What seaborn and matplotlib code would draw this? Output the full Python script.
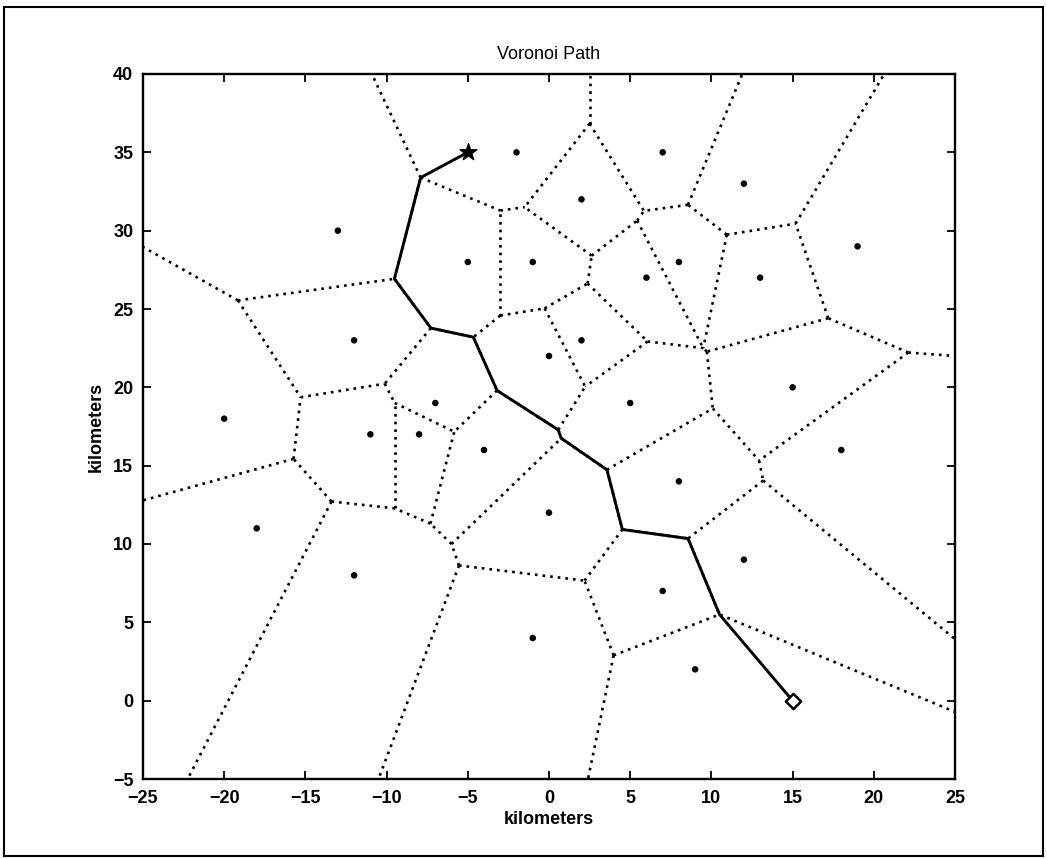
import heapq
import numpy as np
import pandas as pd
import matplotlib
matplotlib.use("Agg")
import matplotlib.pyplot as plt
import matplotlib.tri as mtri
from matplotlib.collections import LineCollection
from matplotlib.patches import Rectangle
import seaborn as sns

# ---------------- data ----------------
site_x = [-2, 7, -13, -5, -1, 2, 12, 19, 8, 6, 13, -12, 0, 2, -20,
          -7, -11, -8, -4, -18, 0, -12, -1, 5, 15, 18, 8, 12, 7, 9]
site_y = [35, 35, 30, 28, 28, 32, 33, 29, 28, 27, 27, 23, 22, 23, 18,
          19, 17, 17, 16, 11, 12, 8, 4, 19, 20, 16, 14, 9, 7, 2]

start_x, start_y = [-5], [35]
goal_x, goal_y = [15], [0]

# approximate path waypoints, snapped to the computed Voronoi vertices
path_way_x = [-7.9, -9.5, -7.2, -4.6, -3.2, 0.5, 3.7, 4.7, 8.75, 10.66]
path_way_y = [33.4, 26.9, 23.8, 23.3, 19.8, 17.3, 14.8, 10.9, 10.3, 5.5]

x_ticks = [-25, -20, -15, -10, -5, 0, 5, 10, 15, 20, 25]
y_ticks = [-5, 0, 5, 10, 15, 20, 25, 30, 35, 40]
title_text = "Voronoi Path"
x_label = "kilometers"
y_label = "kilometers"

# ---------------- Voronoi from Delaunay ----------------
pts = np.column_stack([site_x, site_y]).astype(float)
tri = mtri.Triangulation(pts[:, 0], pts[:, 1])
T = tri.triangles
nb = tri.neighbors


def circumcenter(a, b, c):
    ax_, ay = a
    bx, by = b
    cx, cy = c
    d = 2 * (ax_ * (by - cy) + bx * (cy - ay) + cx * (ay - by))
    ux = ((ax_**2 + ay**2) * (by - cy) + (bx**2 + by**2) * (cy - ay)
          + (cx**2 + cy**2) * (ay - by)) / d
    uy = ((ax_**2 + ay**2) * (cx - bx) + (bx**2 + by**2) * (ax_ - cx)
          + (cx**2 + cy**2) * (bx - ax_)) / d
    return np.array([ux, uy])


cc = np.array([circumcenter(*pts[t]) for t in T])
segments = []
graph = {i: [] for i in range(len(T))}
for i, t in enumerate(T):
    for j in range(3):
        k = nb[i, j]
        p1, p2, po = t[j], t[(j + 1) % 3], t[(j + 2) % 3]
        if k >= 0:
            if i < k:
                segments.append([cc[i], cc[k]])
                w = float(np.hypot(*(cc[i] - cc[k])))
                graph[i].append((k, w))
                graph[k].append((i, w))
        else:
            tv = pts[p2] - pts[p1]
            tv = tv / np.hypot(*tv)
            n = np.array([-tv[1], tv[0]])
            mid = 0.5 * (pts[p1] + pts[p2])
            direction = np.sign(np.dot(mid - pts[po], n)) * n
            segments.append([cc[i], cc[i] + direction * 300])


def dijkstra(a, b):
    dist = {a: 0.0}
    prev = {}
    pq = [(0.0, a)]
    while pq:
        d, u = heapq.heappop(pq)
        if u == b:
            break
        if d > dist.get(u, 1e18):
            continue
        for v, w in graph[u]:
            nd = d + w
            if nd < dist.get(v, 1e18):
                dist[v] = nd
                prev[v] = u
                heapq.heappush(pq, (nd, v))
    node = b
    out = [b]
    while node != a:
        node = prev[node]
        out.append(node)
    return out[::-1]


snapped = [int(np.argmin(np.hypot(cc[:, 0] - x, cc[:, 1] - y)))
           for x, y in zip(path_way_x, path_way_y)]
route = [snapped[0]]
for a, b in zip(snapped[:-1], snapped[1:]):
    route += dijkstra(a, b)[1:]
path_x = start_x + [cc[r, 0] for r in route] + goal_x
path_y = start_y + [cc[r, 1] for r in route] + goal_y

# ---------------- plotting ----------------
sns.set_theme(style="white")
plt.rcParams["font.family"] = ["Liberation Sans", "DejaVu Sans"]

fig = plt.figure(figsize=(10.47, 8.59), dpi=100)
ax = fig.add_axes([143 / 1047, 1 - 779 / 859, (955 - 143) / 1047, (779 - 74) / 859])

lc = LineCollection(segments, colors="black", linewidths=1.9,
                    linestyles=[(0, (1.0, 1.9))], zorder=1)
ax.add_collection(lc)

sites_df = pd.DataFrame({"x": site_x, "y": site_y})
sns.scatterplot(data=sites_df, x="x", y="y", color="black", s=22,
                edgecolor="none", ax=ax, zorder=3, legend=False)

path_df = pd.DataFrame({"x": path_x, "y": path_y})
sns.lineplot(data=path_df, x="x", y="y", sort=False, estimator=None,
             color="black", linewidth=2.1, ax=ax, zorder=4)

ax.scatter(start_x, start_y, marker="*", s=160, color="black", zorder=5)
ax.scatter(goal_x, goal_y, marker="D", s=60, facecolor="white",
           edgecolor="black", linewidth=1.8, zorder=5)

ax.set_xlim(-25, 25)
ax.set_ylim(-5, 40)
ax.set_xticks(x_ticks)
ax.set_yticks(y_ticks)
ax.set_xticklabels([str(v).replace("-", "\u2212") for v in x_ticks])
ax.set_yticklabels([str(v).replace("-", "\u2212") for v in y_ticks])
ax.tick_params(direction="in", length=6, width=1.3, top=True, right=True,
               bottom=True, left=True, labelsize=13, colors="black")
ax.tick_params(axis="x", pad=8)
ax.tick_params(axis="y", pad=7)
for lab in ax.get_xticklabels() + ax.get_yticklabels():
    lab.set_fontweight("bold")
for sp in ax.spines.values():
    sp.set_visible(True)
    sp.set_color("black")
    sp.set_linewidth(1.7)

ax.set_title(title_text, fontsize=13, pad=11, color="black")
ax.set_xlabel(x_label, fontsize=13, fontweight="bold", labelpad=3, color="black")
ax.set_ylabel(y_label, fontsize=13, fontweight="bold", labelpad=6, color="black")

fig.patches.append(Rectangle((0.004, 0.004), 0.992, 0.988, transform=fig.transFigure,
                             fill=False, edgecolor="black", linewidth=1.5))

fig.savefig("out.png", dpi=100, facecolor="white")
